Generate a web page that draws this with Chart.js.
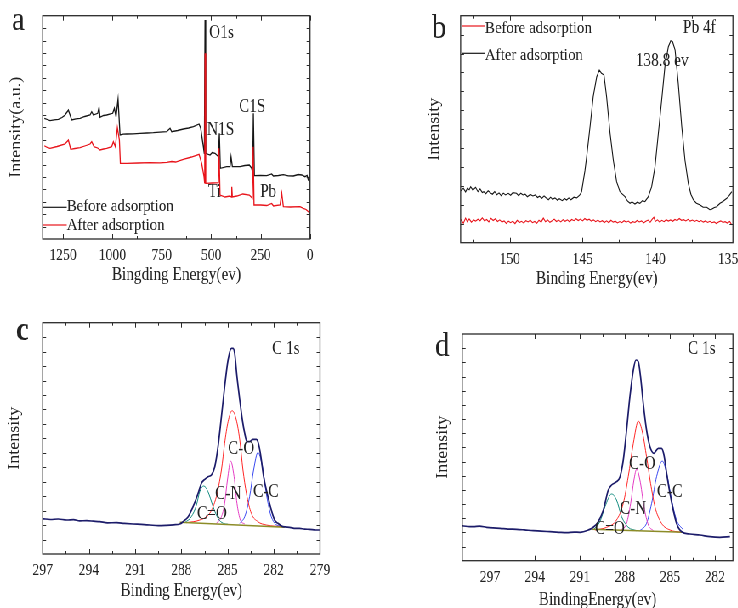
<!DOCTYPE html>
<html><head><meta charset="utf-8">
<script src="https://cdn.jsdelivr.net/npm/chart.js@4/dist/chart.umd.min.js"></script>
<style>
html,body{margin:0;padding:0;background:#fff;overflow:hidden;width:738px;height:608px}
#wrap{position:absolute;left:0;top:0;width:869px;height:608px;transform:scaleX(0.85);transform-origin:0 0}
canvas{position:absolute}
</style></head>
<body><div id="wrap"></div>
<script>
// ---------------- DATA (binding energy eV, intensity a.u.) ----------------
const surveyTicks = [1250, 1000, 750, 500, 250, 0];
const pbTicks = [150, 145, 140, 135];
const c1sTicksC = [297, 294, 291, 288, 285, 282, 279];
const c1sTicksD = [297, 294, 291, 288, 285, 282];

const surveyBefore = [[1344.3,120.7],[1330,119.5],[1315.6,118.3],[1295,119.2],[1273.5,119.7],[1255,121.5],[1239.7,124],[1222.9,129],[1206,119],[1185,120.2],[1163.8,120.7],[1140,122.5],[1113.2,124],[1104.8,127.3],[1096.4,124],[1074.4,125.7],[1067.7,131.7],[1062.6,121.7],[1045,123.5],[1028.9,124],[1010,125.2],[998.5,125.7],[990.1,130.7],[981.7,122.3],[971.5,139.7],[961.4,104],[945,104.8],[927.7,105],[895,105.2],[860.2,105.7],[825,106],[792.7,106.3],[760,106.8],[725.3,107.3],[708.4,110.7],[700,107.3],[670,108.5],[641,110],[615,111],[590.3,112.3],[561.7,115],[553.2,110.7],[539.7,92.3],[534.7,85],[531.3,219],[527.9,85.7],[506,84],[495,86.5],[480.7,85.7],[463.8,82.3],[458.8,105.7],[453.7,70.7],[421.7,72.3],[404.8,72.3],[399.7,82.3],[393,72.3],[354.2,72.3],[330,73.5],[307,74],[295.2,70.7],[290.1,65.7],[286.7,125.7],[281.7,63.3],[250,63.5],[219.3,63.3],[194,65],[185.5,63],[160,63.5],[134.9,64.3],[110,63.2],[84.3,63],[60,64.5],[42.2,64],[25.3,62.3],[15,63.5],[8.4,59],[0,57.3]];
const surveyAfter = [[1344.3,93.3],[1330,91.5],[1315.6,90.7],[1280,92.5],[1239.7,95],[1222.9,99],[1211.1,89.7],[1190,90.5],[1163.8,91.3],[1140,93],[1113.2,95],[1104.8,97.3],[1093,92.3],[1075,91],[1062.6,89],[1045,90],[1028.9,90.7],[1003.6,92.3],[995.2,97.3],[985.1,92.3],[974.9,111.3],[964.8,99],[959.8,75.7],[927.7,75.7],[870,76],[809.6,76.3],[760,76.2],[725.3,76.7],[700,77.5],[680,77],[641,79.7],[600,82],[561.7,84.7],[548.2,75.7],[536.4,62.3],[533,55.7],[531.3,185.7],[527.9,55.7],[495,56],[463.8,56.3],[460.5,90.7],[455.4,44],[430,42],[405,43],[398,42],[396,52.3],[393,42],[370,43],[340,45],[307.1,44],[292,40.7],[287.5,92.3],[283.4,34],[250,34],[219,33.5],[194,35.5],[185,33],[151.8,34],[143.2,45.7],[135,32.3],[100,32],[50.6,32.3],[33.9,30.7],[20,29.5],[8.4,27.3],[0,25.7]];

const pbBefore = [[153.39,23.4],[153.2,19.5],[153.05,24.6],[152.93,21],[152.8,23.8],[152.65,20.5],[152.5,22.8],[152.36,21.6],[152.2,23.5],[152.05,22],[151.9,24.8],[151.75,21.8],[151.6,23.2],[151.45,20.8],[151.3,24.4],[151.15,22.2],[151,23.9],[150.85,21.2],[150.7,22.8],[150.55,20.6],[150.4,21.8],[150.25,19.2],[150.1,21.5],[149.95,20],[149.8,21.6],[149.65,19],[149.5,22.4],[149.35,20.2],[149.2,21.4],[149.05,19.6],[148.9,22],[148.75,20.8],[148.6,22.6],[148.45,20],[148.3,21.2],[148.15,19.4],[148,22.5],[147.85,20.6],[147.7,24.6],[147.55,21],[147.4,22.8],[147.25,20.4],[147.1,21.9],[146.95,23.6],[146.8,21.2],[146.65,22.6],[146.5,20.8],[146.35,23],[146.2,21.4],[146.05,22.9],[145.9,21],[145.75,23.2],[145.6,22],[145.45,24],[145.3,22.2],[145.15,23.6],[145,21.8],[144.85,24.2],[144.7,22.4],[144.55,23.5],[144.4,21.6],[144.25,22.8],[144.1,21],[143.95,22.6],[143.8,20.8],[143.65,22],[143.5,20.2],[143.35,21.8],[143.2,20],[143.05,22.4],[142.9,20.6],[142.75,21.5],[142.6,19.8],[142.45,21.2],[142.3,20],[142.15,22],[142,20.5],[141.85,21.6],[141.7,19.6],[141.55,21],[141.4,20.2],[141.25,22.2],[141.1,20.8],[140.95,21.8],[140.8,19.8],[140.65,21.4],[140.5,22.6],[140.35,20.4],[140.2,23.8],[140.1,25.4],[140,21.2],[139.85,22.8],[139.7,20.6],[139.55,22.4],[139.4,21],[139.25,23],[139.1,21.6],[138.95,22.8],[138.8,21.4],[138.65,23.2],[138.5,22],[138.35,24.2],[138.2,22.4],[138.05,23],[137.9,21.8],[137.75,23.4],[137.6,21.6],[137.45,22.6],[137.3,21.2],[137.15,22.4],[137,21],[136.85,22.2],[136.7,20.6],[136.55,21.8],[136.4,20.2],[136.25,21.4],[136.1,20],[135.95,20.8],[135.8,19.2],[135.65,20.6],[135.5,21.8],[135.35,20.2],[135.2,21],[135.05,19.6],[134.88,21.2],[134.74,17.7]];
const pbAfter = [[153.39,52],[153.2,54.5],[153.05,50.8],[152.93,54.4],[152.8,53],[152.7,56],[152.55,52.5],[152.36,55.4],[152.2,51],[152.05,53.8],[151.9,50.2],[151.8,51],[151.65,49],[151.5,52],[151.35,50],[151.2,48.5],[151.05,51.2],[150.9,48],[150.75,49.8],[150.6,47],[150.45,49.6],[150.3,47.8],[150.11,49.4],[149.95,47.5],[149.8,50],[149.55,49.4],[149.4,47],[149.25,49.5],[149.1,47.7],[148.95,48.5],[148.8,46],[148.6,48.2],[148.42,46.7],[148.25,47.8],[148.1,45.2],[147.97,46.5],[147.8,44.5],[147.65,46.8],[147.52,45],[147.35,43],[147.2,45.5],[147.07,43.4],[146.9,44.8],[146.73,42.5],[146.6,44],[146.4,42],[146.25,44.2],[146.1,42.7],[145.95,44.8],[145.8,43],[145.6,45.5],[145.4,44.8],[145.21,47.5],[145.07,51],[144.96,61],[144.84,72],[144.72,86],[144.49,116],[144.27,146],[144.03,166],[143.85,172.7],[143.7,169.4],[143.53,167.7],[143.35,146],[143.11,109.4],[142.89,82.7],[142.66,61],[142.43,51],[142.26,48.5],[142.09,46],[141.9,41.5],[141.74,39.4],[141.6,40.8],[141.4,38.7],[141.24,40.5],[141.06,39.4],[140.88,42],[140.71,41],[140.6,43.5],[140.48,46],[140.25,56],[140.02,76],[139.79,109.4],[139.56,142.7],[139.34,176],[139.1,196],[138.94,202],[138.81,201],[138.64,192.7],[138.42,159.4],[138.18,116],[137.96,82.7],[137.73,59.4],[137.55,48.5],[137.38,42.7],[137.17,39.5],[136.92,37.7],[136.71,35.5],[136.46,35.4],[136.25,33],[136.12,33.4],[135.94,35.2],[135.78,36],[135.55,39.4],[135.33,41.5],[135.09,44.4],[134.92,47],[134.74,51]];

const c1sEnvC = [[297,35.3],[296.5,34.5],[296,35],[295.44,34],[295,34.4],[294.6,33.2],[294.15,33.3],[293.7,32.8],[293.29,32.3],[292.8,31.2],[292.21,31.3],[291.7,30.6],[291.13,30],[290.6,29.6],[290.05,29],[289.5,28.4],[288.97,28.7],[288.5,29.2],[288.1,30],[287.89,32.3],[287.56,37.3],[287.24,47.3],[286.91,60.7],[286.7,70.7],[286.48,74.7],[286.27,77.3],[286.05,79],[285.83,87.3],[285.62,107.3],[285.4,137.3],[285.19,167.3],[284.97,194],[284.75,205.7],[284.65,205.7],[284.54,200.7],[284.39,177.3],[284.21,154],[284.04,134],[283.89,120.7],[283.74,112.3],[283.57,112.3],[283.35,114.7],[283.13,114.7],[283.03,112.3],[282.87,100.7],[282.66,77.3],[282.38,57.3],[282.16,44],[281.95,34],[281.73,30.7],[281.41,27.3],[280.97,26.7],[280.6,25.6],[280.33,25.7],[280,24.8],[279.68,24.7],[279.3,24],[279.03,24]];
const c1sCOC = [[287.67,31.3],[286.81,34],[286.16,40.7],[285.73,57.3],[285.4,84],[285.19,110.7],[284.97,132.3],[284.71,143.3],[284.43,134],[284.21,114],[284,84],[283.78,60.7],[283.46,40.7],[283.03,32.3],[282.49,29],[281.41,27.3]];
const c1sCNC = [[285.73,30.7],[285.4,37.3],[285.19,50.7],[285.01,74],[284.8,93],[284.58,77.3],[284.39,50.7],[284.17,34],[283.89,30]];
const c1sCdOC = [[287.78,31.3],[287.35,37.3],[287.02,49],[286.81,62.3],[286.55,68],[286.27,62.3],[285.94,47.3],[285.62,35.7],[285.29,30.7],[284.97,29.7]];
const c1sCCC = [[284.21,30.7],[283.89,37.3],[283.57,57.3],[283.31,84],[283.03,101.7],[282.74,87.3],[282.49,60.7],[282.23,40.7],[281.95,30.7],[281.62,28]];
const c1sBgC = [[288.1,31.7],[281.3,26.7]];

const c1sEnvD = [[298.89,35],[298.5,34.2],[298.11,34],[297.7,34.6],[297.22,33.4],[296.8,32.8],[296.33,32.4],[295.8,31.6],[295.22,31.4],[294.7,30.8],[294.11,30],[293.6,29.6],[293,29],[292.4,28.4],[291.89,28],[291.4,28.6],[291,28.4],[290.44,30.7],[290.11,33.4],[289.78,39],[289.44,50.7],[289.11,70.7],[288.89,75.7],[288.56,79],[288.33,84],[288.11,100.7],[287.89,130.7],[287.67,164],[287.44,190.7],[287.27,200.7],[287.11,199],[286.96,184],[286.78,157.4],[286.56,130.7],[286.33,114],[286.07,107.4],[285.78,112.4],[285.56,112.4],[285.4,105.7],[285.22,87.4],[285,67.4],[284.78,50.7],[284.56,37.4],[284.22,29],[283.67,26.7],[283,25.7],[282.33,24],[281.67,23.4],[281,24]];
const c1sCOD = [[290,30.7],[289.22,33.4],[288.56,40.7],[288.11,57.4],[287.78,84],[287.44,117.4],[287.11,139.7],[286.82,127.4],[286.56,104],[286.29,77.4],[286,54],[285.56,37.4],[285,30.7],[284.22,28.4]];
const c1sCND = [[288.33,30],[287.89,37.4],[287.62,57.4],[287.4,80.7],[287.22,91.7],[287,80.7],[286.73,54],[286.44,35.7],[286.11,30]];
const c1sCdOD = [[290.11,30.7],[289.67,39],[289.33,54],[288.89,66.7],[288.56,60.7],[288.22,44],[287.78,33.4],[287.22,30]];
const c1sCCD = [[287,30],[286.56,37.4],[286.22,57.4],[285.89,84],[285.51,99.7],[285.22,87.4],[284.89,60.7],[284.56,40.7],[284.11,30.7]];
const c1sBgD = [[290.22,31.4],[284.11,28.4]];

// ---------------- LAYOUT / STYLE ----------------
const S = 0.85;
const FONT = '"Liberation Serif", "Times New Roman", serif';
const TITLE_SIZE = 18, TICK_SIZE = 16, LEGEND_SIZE = 17.5;
const INK = '#222';
const wrap = document.getElementById('wrap');

const pts = arr => arr.map(p => ({x: p[0], y: p[1]}));
function ds(label, arr, color, width, order, smooth) {
  return {label, data: pts(arr), borderColor: color, backgroundColor: color, borderWidth: width,
    showLine: true, pointRadius: 0, order, tension: 0, cubicInterpolationMode: smooth ? 'monotone' : 'default'};
}

function framePlugin(cfg) {
  return {id: 'frame', afterDatasetsDraw(chart) {
    const {ctx, chartArea: a} = chart; const x = chart.scales.x;
    ctx.save(); ctx.strokeStyle = '#2a2a2a'; ctx.lineWidth = 1; ctx.beginPath();
    const half = cfg.xStep / 2;
    const k0 = Math.ceil(cfg.xMin / half - 1e-6), k1 = Math.floor(cfg.xMax / half + 1e-6);
    for (let k = k0; k <= k1; k++) {
      const px = Math.round(x.getPixelForValue(k * half)) + 0.5;
      const len = (Math.abs(k) % 2 === 0) ? 5 : 3;
      ctx.moveTo(px, a.bottom); ctx.lineTo(px, a.bottom - len);
      ctx.moveTo(px, a.top); ctx.lineTo(px, a.top + len);
    }
    for (let i = 1; i < cfg.yDiv; i++) {
      const py = Math.round(a.top + i * a.height / cfg.yDiv) + 0.5;
      ctx.moveTo(a.left, py); ctx.lineTo(a.left + 4, py);
      ctx.moveTo(a.right, py); ctx.lineTo(a.right - 4, py);
    }
    ctx.stroke();
    ctx.lineWidth = 1.3; ctx.strokeRect(a.left, a.top, a.width, a.height);
    ctx.restore();
  }};
}
function textPlugin(p, cfg) {
  return {id: 'panelText', afterDraw(chart) {
    const ctx = chart.ctx; ctx.save();
    ctx.textAlign = 'left'; ctx.textBaseline = 'alphabetic'; ctx.fillStyle = INK;
    for (const t of cfg.texts) {
      ctx.font = (t.bold ? 'bold ' : '') + t.size + 'px ' + FONT;
      ctx.fillText(t.text, (t.x - p.cx) / S, t.y - p.cy);
    }
    ctx.font = LEGEND_SIZE + 'px ' + FONT;
    for (const l of cfg.legend) {
      const d = chart.data.datasets[l.ds];
      ctx.strokeStyle = d.borderColor; ctx.lineWidth = 1.2;
      ctx.beginPath(); ctx.moveTo((l.x0 - p.cx) / S, l.y - p.cy); ctx.lineTo((l.x1 - p.cx) / S, l.y - p.cy); ctx.stroke();
      ctx.fillText(d.label, (l.x1 - p.cx) / S, l.tb - p.cy);
    }
    ctx.restore();
  }};
}

function build(p, cfg) {
  const lh = TITLE_SIZE * 1.2;
  const iw = p.cw / S;
  const L = (p.L - p.cx) / S, R = (p.R - p.cx) / S, T = p.T - p.cy, B = p.B - p.cy;
  const yLeft = (p.yTitleX - p.cx) / S - lh / 2;
  const yW = L - yLeft;
  const hx = (p.xTitleY - p.cy) - B + lh / 2;
  const c = document.createElement('canvas');
  c.width = Math.round(iw); c.height = p.ch;
  c.style.left = (p.cx / S) + 'px'; c.style.top = p.cy + 'px';
  c.style.width = c.width + 'px'; c.style.height = c.height + 'px';
  wrap.appendChild(c);
  new Chart(c, {
    type: 'scatter',
    data: {datasets: cfg.datasets},
    options: {
      animation: false, responsive: false, devicePixelRatio: 1,
      layout: {padding: {left: yLeft, right: c.width - R, top: T, bottom: p.ch - B - hx}},
      plugins: {legend: {display: false}, tooltip: {enabled: false}},
      scales: {
        x: {type: 'linear', reverse: true, min: cfg.xMin, max: cfg.xMax,
          afterBuildTicks: s => { s.ticks = cfg.xTicks.map(v => ({value: v})); },
          afterFit: s => { s.height = hx; s.paddingLeft = 0; s.paddingRight = 0; },
          grid: {display: false, drawTicks: false}, border: {display: false},
          ticks: {color: INK, font: {family: FONT, size: TICK_SIZE}, padding: 7, maxRotation: 0, autoSkip: false, callback: v => String(v)},
          title: {display: true, text: cfg.xTitle, color: INK, font: {family: FONT, size: TITLE_SIZE}, padding: 0}},
        y: {type: 'linear', min: 0, max: cfg.yMax,
          afterFit: s => { s.width = yW; s.paddingTop = 0; s.paddingBottom = 0; },
          grid: {display: false, drawTicks: false}, border: {display: false},
          ticks: {display: false},
          title: {display: true, text: cfg.yTitle, color: INK, font: {family: FONT, size: TITLE_SIZE}, padding: 0}}
      }
    },
    plugins: [framePlugin(cfg), textPlugin(p, cfg)]
  });
}

// Panel a
build({cx: 0, cy: 0, cw: 369, ch: 300, L: 42.7, T: 15.7, R: 310, B: 239, yTitleX: 16.7, xTitleY: 275}, {
  xMin: 0, xMax: 1352.7, xStep: 250, xTicks: surveyTicks, yMax: 223.3, yDiv: 18,
  xTitle: 'Bingding Energy(ev)', yTitle: 'Intensity(a.u.)',
  datasets: [ds('Before adsorption', surveyBefore, '#161616', 1.3, 1, false),
             ds('After adsorption', surveyAfter, '#e8141b', 1.3, 0, false)],
  texts: [{text: 'a', x: 12, y: 30, size: 34}, {text: 'O1s', x: 209, y: 38, size: 18},
          {text: 'C1S', x: 239, y: 112, size: 18}, {text: 'N1S', x: 207, y: 135, size: 18},
          {text: 'Ti', x: 208, y: 197, size: 18}, {text: 'Pb', x: 260, y: 197, size: 18}],
  legend: [{ds: 0, x0: 42.7, x1: 66.7, y: 207.3, tb: 211}, {ds: 1, x0: 42.7, x1: 66.7, y: 225, tb: 229.5}]
});
// Panel b
build({cx: 369, cy: 0, cw: 372, ch: 300, L: 460.7, T: 15.7, R: 733, B: 242.7, yTitleX: 435, xTitleY: 279.5}, {
  xMin: 134.66, xMax: 153.39, xStep: 5, xTicks: pbTicks, yMax: 227, yDiv: 12,
  xTitle: 'Binding Energy(ev)', yTitle: 'Intensity',
  datasets: [ds('Before adsorption', pbBefore, '#e8141b', 1.1, 1, false),
             ds('After adsorption', pbAfter, '#161616', 1.1, 0, false)],
  texts: [{text: 'b', x: 432, y: 38, size: 34}, {text: 'Pb 4f', x: 683, y: 33, size: 18},
          {text: '138.8 ev', x: 636, y: 66, size: 18}],
  legend: [{ds: 0, x0: 462, x1: 485, y: 26, tb: 32.5}, {ds: 1, x0: 462, x1: 485, y: 53.3, tb: 60}]
});
// Panel c
const compC = [ds('C 1s', c1sEnvC, '#1c1c6a', 1.7, 0, true), ds('C-O', c1sCOC, '#ff2626', 1, 2, true),
  ds('C-N', c1sCNC, '#e43cc4', 1, 3, true), ds('C=O', c1sCdOC, '#108a7e', 1, 4, true),
  ds('C-C', c1sCCC, '#3848f0', 1, 5, true), ds('Background', c1sBgC, '#8c8c28', 1.6, 1, false)];
build({cx: 0, cy: 290, cw: 369, ch: 330, L: 42.7, T: 322.7, R: 320, B: 554, yTitleX: 15, xTitleY: 591}, {
  xMin: 279, xMax: 297, xStep: 3, xTicks: c1sTicksC, yMax: 231.3, yDiv: 16,
  xTitle: 'Binding Energy(ev)', yTitle: 'Intensity', datasets: compC,
  texts: [{text: 'c', x: 16, y: 340, size: 34, bold: true}, {text: 'C 1s', x: 272, y: 354, size: 18},
          {text: 'C-O', x: 228, y: 454, size: 18}, {text: 'C-N', x: 215, y: 499, size: 18},
          {text: 'C-C', x: 253, y: 497, size: 18}, {text: 'C=O', x: 197, y: 519, size: 18}],
  legend: []
});
// Panel d
const compD = [ds('C 1s', c1sEnvD, '#1c1c6a', 1.7, 0, true), ds('C-O', c1sCOD, '#ff2626', 1, 2, true),
  ds('C-N', c1sCND, '#e43cc4', 1, 3, true), ds('C=O', c1sCdOD, '#108a7e', 1, 4, true),
  ds('C-C', c1sCCD, '#3848f0', 1, 5, true), ds('Background', c1sBgD, '#8c8c28', 1.6, 1, false)];
build({cx: 369, cy: 290, cw: 372, ch: 330, L: 462.3, T: 334, R: 733, B: 560.7, yTitleX: 443, xTitleY: 600}, {
  xMin: 280.8, xMax: 298.85, xStep: 3, xTicks: c1sTicksD, yMax: 226.7, yDiv: 16,
  xTitle: 'BindingEnergy(ev)', yTitle: 'Intensity', datasets: compD,
  texts: [{text: 'd', x: 435, y: 356, size: 34}, {text: 'C 1s', x: 688, y: 354, size: 18},
          {text: 'C-O', x: 629, y: 469, size: 18}, {text: 'C-C', x: 657, y: 497, size: 18},
          {text: 'C-N', x: 620, y: 514, size: 18}, {text: 'C=O', x: 595, y: 534, size: 18}],
  legend: []
});
</script>
</body></html>
